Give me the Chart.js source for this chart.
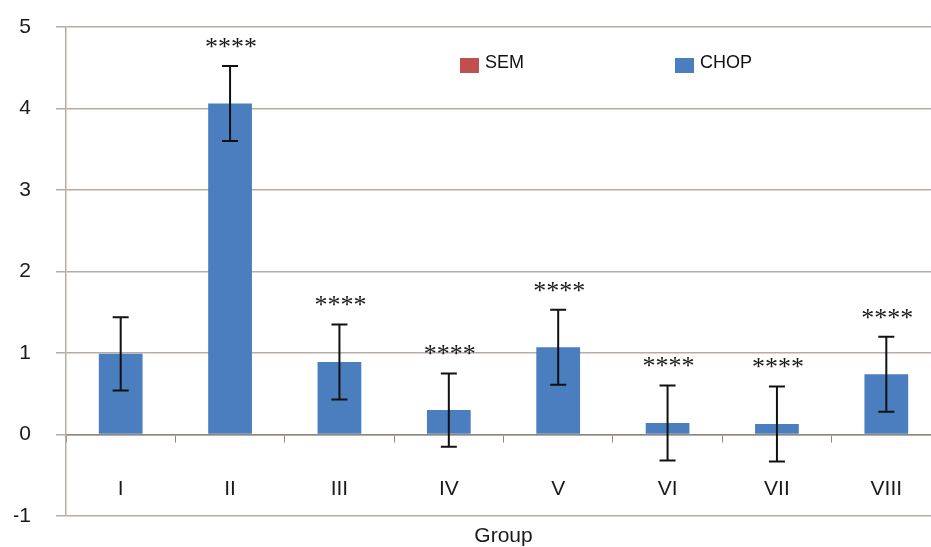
<!DOCTYPE html>
<html>
<head>
<meta charset="utf-8">
<script src="https://cdn.jsdelivr.net/npm/chart.js@4"></script>
<style>
    html, body { margin: 0; padding: 0; background: #fff; overflow: hidden; }
    #wrap { width: 945px; height: 547px; }
</style>
</head>
<body>
<div id="wrap"><canvas id="groupChart"></canvas></div>
<script>
// values
const groups = ['I', 'II', 'III', 'IV', 'V', 'VI', 'VII', 'VIII'];
const chopValues = [0.99, 4.06, 0.89, 0.30, 1.07, 0.14, 0.13, 0.74];
const semValues = [0.45, 0.46, 0.46, 0.45, 0.46, 0.46, 0.46, 0.46];
const starLabels = ['', '****', '****', '****', '****', '****', '****', '****'];
const yTicks = [-1, 0, 1, 2, 3, 4, 5];

const blue = '#4a7ebf';
const red = '#c0504d';
const gridColor = '#b5aca5';

// error bars and significance marks
const errorBarPlugin = {
    id: 'errorBars',
    afterDatasetsDraw(chart) {
        const ctx = chart.ctx;
        const y = chart.scales.y;
        const meta = chart.getDatasetMeta(1);
        ctx.save();
        ctx.strokeStyle = '#111';
        ctx.lineWidth = 2;
        meta.data.forEach((bar, i) => {
            const top = y.getPixelForValue(chopValues[i] + semValues[i]);
            const bottom = y.getPixelForValue(chopValues[i] - semValues[i]);
            ctx.beginPath();
            ctx.moveTo(bar.x, top);
            ctx.lineTo(bar.x, bottom);
            ctx.moveTo(bar.x - 8, top);
            ctx.lineTo(bar.x + 8, top);
            ctx.moveTo(bar.x - 8, bottom);
            ctx.lineTo(bar.x + 8, bottom);
            ctx.stroke();

            if (starLabels[i]) {
                ctx.fillStyle = '#1a1a1a';
                ctx.font = '26px "Liberation Serif"';
                ctx.textAlign = 'center';
                ctx.textBaseline = 'middle';
                ctx.fillText(starLabels[i], bar.x + 1, top - 18);
            }
        });
        ctx.restore();
    }
};

// legend drawn inside the plot, Excel style
const innerLegendPlugin = {
    id: 'innerLegend',
    afterDraw(chart) {
        const ctx = chart.ctx;
        const spots = [460, 675];
        ctx.save();
        ctx.font = '18px "Liberation Sans"';
        ctx.textBaseline = 'middle';
        chart.data.datasets.forEach((ds, i) => {
            const x = spots[i];
            ctx.fillStyle = ds.backgroundColor;
            ctx.fillRect(x, 58, 19, 15);
            ctx.fillStyle = '#111';
            ctx.fillText(ds.label, x + 25, 63);
        });
        ctx.restore();
    }
};

const ctx = document.getElementById('groupChart').getContext('2d');
const chart = new Chart(ctx, {
    type: 'bar',
    data: {
        labels: groups,
        datasets: [{
            label: 'SEM',
            data: semValues.map(() => null),
            backgroundColor: red
        }, {
            label: 'CHOP',
            data: chopValues,
            backgroundColor: blue,
            barPercentage: 0.4,
            categoryPercentage: 1
        }]
    },
    options: {
        responsive: true,
        maintainAspectRatio: false,
        animation: false,
        layout: {
            padding: { left: 14, top: 27, right: 4, bottom: 31 }
        },
        plugins: {
            legend: { display: false },
            tooltip: { enabled: false }
        },
        datasets: {
            bar: { grouped: false }
        },
        scales: {
            x: {
                position: { y: 0 },
                grid: {
                    display: true,
                    drawOnChartArea: false,
                    offset: true,
                    tickLength: 7,
                    color: '#8e8680'
                },
                border: { display: true, color: '#8e8680', width: 1.5 },
                ticks: {
                    color: '#1a1a1a',
                    padding: 35,
                    font: { family: 'Liberation Sans', size: 21 }
                },
                title: {
                    display: true,
                    text: 'Group',
                    color: '#1a1a1a',
                    padding: { top: -13, bottom: 0 },
                    font: { family: 'Liberation Sans', size: 21 }
                }
            },
            y: {
                min: -1,
                max: 5,
                afterBuildTicks(scale) {
                    scale.ticks = yTicks.map(v => ({ value: v }));
                },
                afterFit(scale) {
                    scale.width = 52;
                    scale.paddingTop = 0;
                    scale.paddingBottom = 0;
                },
                grid: {
                    color: gridColor,
                    lineWidth: 1.5,
                    tickLength: 10
                },
                border: { display: true, color: gridColor, width: 1.5 },
                ticks: {
                    color: '#1a1a1a',
                    padding: 25,
                    font: { family: 'Liberation Sans', size: 21 }
                }
            }
        }
    },
    plugins: [errorBarPlugin, innerLegendPlugin]
});
</script>
</body>
</html>
